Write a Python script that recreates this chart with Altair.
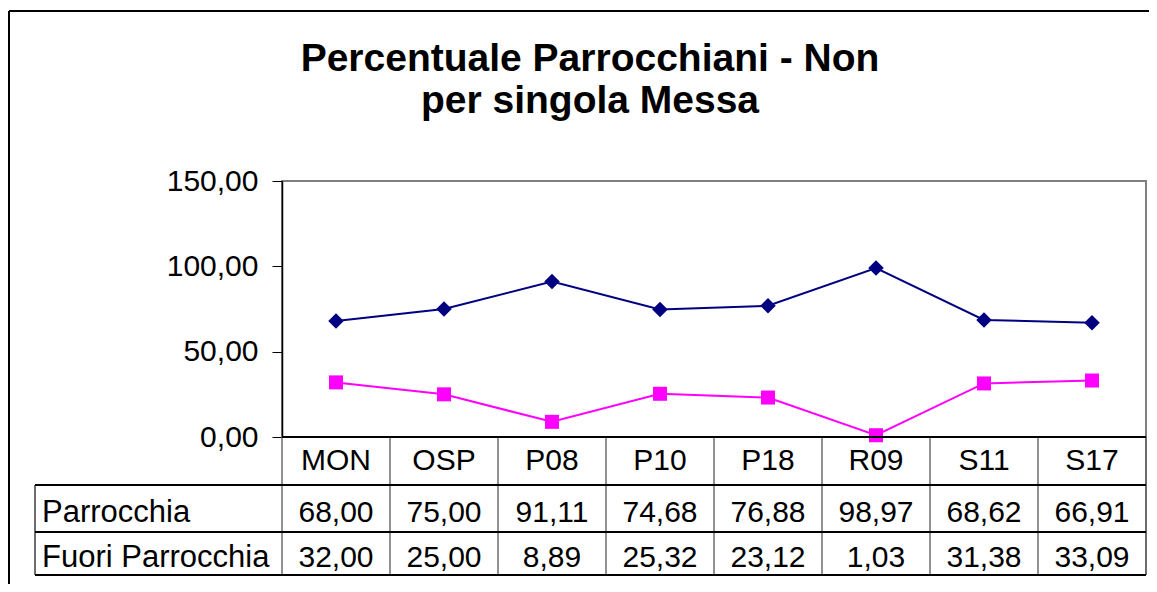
import altair as alt
import pandas as pd

# ---- data ----
categories = ["MON", "OSP", "P08", "P10", "P18", "R09", "S11", "S17"]
parrocchia = [68.00, 75.00, 91.11, 74.68, 76.88, 98.97, 68.62, 66.91]
fuori_parrocchia = [32.00, 25.00, 8.89, 25.32, 23.12, 1.03, 31.38, 33.09]
series_names = ["Parrocchia", "Fuori Parrocchia"]
series_colors = ["#000080", "#FF00FF"]
y_ticks = [0, 50, 100, 150]
title_lines = ["Percentuale Parrocchiani - Non", "per singola Messa"]

rows = []
for c, a, b in zip(categories, parrocchia, fuori_parrocchia):
    rows.append({"cat": c, "serie": series_names[0], "value": a})
    rows.append({"cat": c, "serie": series_names[1], "value": b})
df = pd.DataFrame(rows)
cat_df = pd.DataFrame({"cat": categories})
name_df = pd.DataFrame({"name": series_names})
title_df = pd.DataFrame({"t": title_lines})

W, H = 864, 256
FONT = "Liberation Sans"
LBL = "replace(format(datum.value, '.2f'), '.', ',')"

xenc = alt.X("cat:N", sort=categories,
             scale=alt.Scale(type="band", paddingInner=0, paddingOuter=0),
             axis=None, bandPosition=0.5)
xedge = alt.X("cat:N", sort=categories,
              scale=alt.Scale(type="band", paddingInner=0, paddingOuter=0),
              axis=None, bandPosition=0)
yenc = alt.Y("value:Q",
             scale=alt.Scale(domain=[0, 150], nice=False, zero=True),
             axis=alt.Axis(values=y_ticks, labelExpr=LBL, labelFont=FONT,
                           labelFontSize=30, labelColor="black", tickSize=10,
                           tickColor="black", tickWidth=1, domainColor="black",
                           domainWidth=1.5, labelPadding=14, grid=False,
                           title=None))

base = alt.Chart(df)

layers = []
# series lines and markers
shapes = ["diamond", "square"]
sizes = [240, 196]
for i, s in enumerate(series_names):
    sub = base.transform_filter(alt.datum.serie == s)
    layers.append(sub.mark_line(color=series_colors[i], strokeWidth=2)
                  .encode(x=xenc, y=yenc))
    layers.append(sub.mark_point(color=series_colors[i], filled=True, opacity=1,
                                 shape=shapes[i], size=sizes[i])
                  .encode(x=xenc, y=yenc))

# table grid: vertical lines at category boundaries
layers.append(alt.Chart(cat_df).mark_rule(color="#6e6e6e", strokeWidth=1.5).encode(
    x=xedge, y=alt.value(H), y2=alt.value(394)))
layers.append(alt.Chart(cat_df).mark_rule(color="#6e6e6e", strokeWidth=1.5).encode(
    x=alt.value(W), y=alt.value(H), y2=alt.value(394)))
layers.append(alt.Chart(cat_df).mark_rule(color="#6e6e6e", strokeWidth=1.5).encode(
    x=alt.value(-247), y=alt.value(304), y2=alt.value(394)))
# horizontal lines
layers.append(alt.Chart(cat_df).mark_rule(color="black", strokeWidth=1.5).encode(
    x=alt.value(0), x2=alt.value(W), y=alt.value(H)))
for yy in [304, 351, 394]:
    layers.append(alt.Chart(cat_df).mark_rule(color="black", strokeWidth=1).encode(
        x=alt.value(-247), x2=alt.value(W), y=alt.value(yy)))

# header row
layers.append(alt.Chart(cat_df).mark_text(font=FONT, fontSize=30, color="black",
                                          baseline="alphabetic", align="center").encode(
    x=xenc, y=alt.value(289), text="cat:N"))
# value rows
for i, (s, yy) in enumerate(zip(series_names, [341, 386])):
    layers.append(base.transform_filter(alt.datum.serie == s)
                  .transform_calculate(lbl=LBL)
                  .mark_text(font=FONT, fontSize=30, color="black",
                             baseline="alphabetic", align="center")
                  .encode(x=xenc, y=alt.value(yy), text="lbl:N"))
    layers.append(alt.Chart(name_df).transform_filter(alt.datum.name == s)
                  .mark_text(font=FONT, fontSize=31, color="black",
                             baseline="alphabetic", align="left")
                  .encode(x=alt.value(-240), y=alt.value(yy), text="name:N"))

# title
for t, yy in zip(title_lines, [-110, -68]):
    layers.append(alt.Chart(title_df).transform_filter(alt.datum.t == t)
                  .mark_text(font=FONT, fontSize=39, fontWeight="bold",
                             color="black", baseline="alphabetic", align="center")
                  .encode(x=alt.value(308), y=alt.value(yy), text="t:N"))

# outer frame
layers.append(alt.Chart(cat_df).mark_rule(color="black", strokeWidth=1.5).encode(
    x=alt.value(-273), x2=alt.value(W + 20), y=alt.value(-170)))
layers.append(alt.Chart(cat_df).mark_rule(color="black", strokeWidth=1.5).encode(
    x=alt.value(-273), y=alt.value(-170), y2=alt.value(H + 200)))

chart = alt.layer(*layers).properties(
    width=W, height=H,
    autosize=alt.AutoSizeParams(type="none"),
    padding={"left": 274, "top": 173, "right": 3, "bottom": 147},
    background="white",
).configure_view(stroke="#808080", strokeWidth=2)

chart.save("out.html", embed_options={"renderer": "svg", "actions": False})
